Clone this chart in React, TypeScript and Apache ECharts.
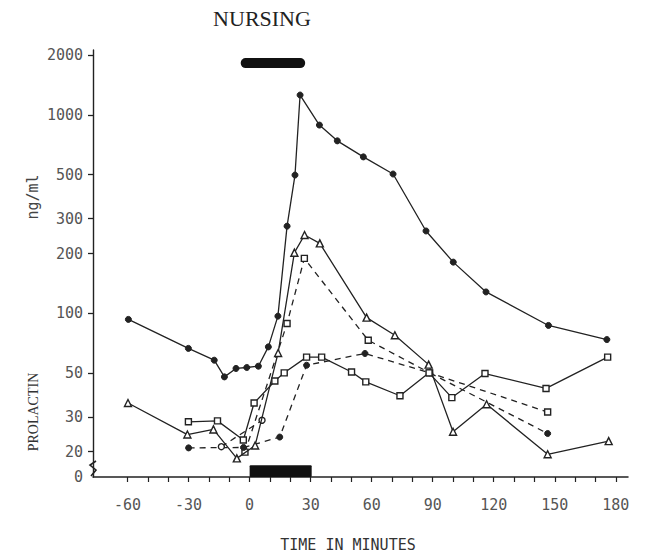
import React, { useEffect, useRef } from "react";
import * as echarts from "echarts";

// ---- data (time in minutes, prolactin ng/ml) ----
const subjectA: [number, number][] = [
  [-59.6, 93], [-30.1, 66.4], [-17.4, 57.9], [-12.4, 47.7], [-6.7, 52.6], [-1.4, 53.2],
  [4.3, 54], [9.2, 67.6], [13.9, 96.6], [18.4, 275], [22.3, 498], [24.8, 1262],
  [34.3, 890], [43.1, 741], [55.9, 615], [70.5, 504], [86.7, 260], [100.1, 181],
  [116.2, 128], [146.9, 86.7], [175.6, 73.6],
];
const subjectB: [number, number][] = [
  [-59.8, 35.2], [-30.6, 24.4], [-17.8, 25.9], [-6.3, 18.5], [2.7, 21.5], [14.0, 63],
  [22.0, 202], [27.0, 248], [34.5, 225], [57.5, 95], [71.4, 77.4], [88.0, 55],
  [100.0, 25.2], [116.5, 34.7], [146.5, 19.4], [176.5, 22.6],
];
const subjectC: [number, number][] = [
  [-30.1, 28.3], [-15.8, 28.6], [-3.1, 22.9], [2.2, 35.2], [12.4, 45.5], [17.0, 50],
  [28.0, 60], [35.4, 60], [50.1, 50.5], [57.1, 45], [73.9, 38.3], [88.2, 50],
  [99.4, 37.5], [115.7, 49.6], [145.7, 41.7], [176.0, 60],
];
const subjectD: [number, number][] = [
  [-2.3, 19.9], [18.4, 88.7], [26.9, 189], [58.3, 73], [88.5, 50], [146.5, 31.7],
];
const subjectE: [number, number][] = [
  [-13.9, 21.2], [6.1, 28.8],
];
const subjectF: [number, number][] = [
  [-30.0, 20.9], [-3.0, 21.0], [14.8, 23.7], [28.0, 54.6], [56.7, 62.6], [88.5, 50], [146.5, 24.7],
];

// nursing periods: [start, end, low, high]
const nursingBars: [number, number, number, number][] = [
  [-4.4, 27.3, 1726, 1941],
  [0, 30.5, 14.9, 17.1],
];

const yTickValues = [20, 30, 50, 100, 200, 300, 500, 1000, 2000];
const yAxisFloor = 14.9; // shown as "0" (axis break)
const yAxisTop = 2130;
const xLabelValues = [-60, -30, 0, 30, 60, 90, 120, 150, 180];
const xTickValues = [-60, -50, -40, -30, -20, -10, 0, 10, 20, 30, 40, 50, 60, 70, 80, 90, 100, 110, 120, 130, 140, 150, 160, 170, 180];

const lg = (v: number) => Math.log10(v);
const toXY = (arr: [number, number][]) => arr.map(([t, v]) => [t, lg(v)]);

const INK = "#222";
const MONO = "'DejaVu Sans Mono', 'Liberation Mono', monospace";
const SERIF = "'Liberation Serif', 'DejaVu Serif', serif";

function lineSeries(name: string, data: [number, number][], symbol: string, filled: boolean, dashed: boolean) {
  return {
    name,
    type: "line",
    data: toXY(data),
    symbol,
    symbolSize: symbol === "triangle" ? 7 : 6,
    showSymbol: true,
    lineStyle: { color: INK, width: 1.3, type: dashed ? [6, 5] : "solid" },
    itemStyle: filled
      ? { color: INK, borderColor: INK, borderWidth: 1 }
      : { color: "#fff", borderColor: INK, borderWidth: 1.4 },
    z: dashed ? 2 : 3,
  };
}

export default function App() {
  const ref = useRef<HTMLDivElement>(null);
  useEffect(() => {
    if (!ref.current) return;
    const chart = echarts.init(ref.current, undefined, { renderer: "svg" });
    const yMinLog = lg(yAxisFloor);
    chart.setOption({
      animation: false,
      backgroundColor: "#fff",
      grid: { left: 93, top: 50, right: 17, bottom: 76, containLabel: false },
      xAxis: {
        type: "value",
        min: -77,
        max: 186,
        axisLine: { show: true, onZero: false, lineStyle: { color: INK, width: 1.5 } },
        axisTick: { show: true, customValues: xTickValues, length: 5, lineStyle: { color: INK, width: 1.2 } },
        axisLabel: {
          customValues: xLabelValues,
          margin: 20,
          fontFamily: MONO,
          fontSize: 15,
          color: "#555",
        },
        splitLine: { show: false },
      },
      yAxis: {
        type: "value",
        min: yMinLog,
        max: lg(yAxisTop),
        axisLine: { show: true, onZero: false, lineStyle: { color: INK, width: 1.4 } },
        axisTick: {
          show: true,
          customValues: yTickValues.map(lg),
          length: 5,
          lineStyle: { color: INK, width: 1.3 },
        },
        axisLabel: {
          customValues: [yMinLog, ...yTickValues.map(lg)],
          margin: 10,
          fontFamily: MONO,
          fontSize: 15,
          color: "#555",
          formatter: (v: number) => (Math.abs(v - yMinLog) < 1e-6 ? "0" : String(Math.round(Math.pow(10, v)))),
        },
        splitLine: { show: false },
      },
      graphic: [
        {
          type: "text",
          x: 262,
          y: 18,
          style: { text: "NURSING", font: `22px ${SERIF}`, fill: "#222", textAlign: "center", textVerticalAlign: "middle" },
        },
        {
          type: "text",
          x: 33,
          y: 412,
          rotation: Math.PI / 2,
          style: { text: "PROLACTIN", font: `14px ${SERIF}`, fill: "#333", textAlign: "center", textVerticalAlign: "middle" },
        },
        {
          type: "text",
          x: 33,
          y: 197,
          rotation: Math.PI / 2,
          style: { text: "ng/ml", font: `15px ${MONO}`, fill: "#444", textAlign: "center", textVerticalAlign: "middle" },
        },
        {
          type: "text",
          x: 348,
          y: 545,
          style: { text: "TIME IN MINUTES", font: `15px ${MONO}`, fill: "#333", textAlign: "center", textVerticalAlign: "middle" },
        },
        {
          type: "polyline",
          shape: { points: [[96, 461], [90, 465], [96, 470], [91, 476]] },
          style: { stroke: INK, lineWidth: 1.6, fill: "none" },
        },
      ],
      series: [
        {
          name: "nursing",
          type: "custom",
          data: nursingBars.map(([s, e, lo, hi]) => [s, e, lg(lo), lg(hi)]),
          renderItem: (params: any, api: any) => {
            const p0 = api.coord([api.value(0), api.value(3)]);
            const p1 = api.coord([api.value(1), api.value(2)]);
            return {
              type: "rect",
              shape: { x: p0[0], y: p0[1], width: p1[0] - p0[0], height: p1[1] - p0[1], r: params.dataIndex === 0 ? 5 : 1 },
              style: { fill: "#111" },
            };
          },
          clip: false,
          z: 1,
        },
        lineSeries("A", subjectA, "circle", true, false),
        lineSeries("B", subjectB, "triangle", false, false),
        lineSeries("C", subjectC, "rect", false, false),
        lineSeries("D", subjectD, "rect", false, true),
        lineSeries("E", subjectE, "circle", false, true),
        lineSeries("F", subjectF, "circle", true, true),
      ],
    });
    return () => chart.dispose();
  }, []);
  return <div ref={ref} style={{ position: "fixed", left: 0, top: 0, width: 645, height: 553, background: "#fff" }} />;
}
